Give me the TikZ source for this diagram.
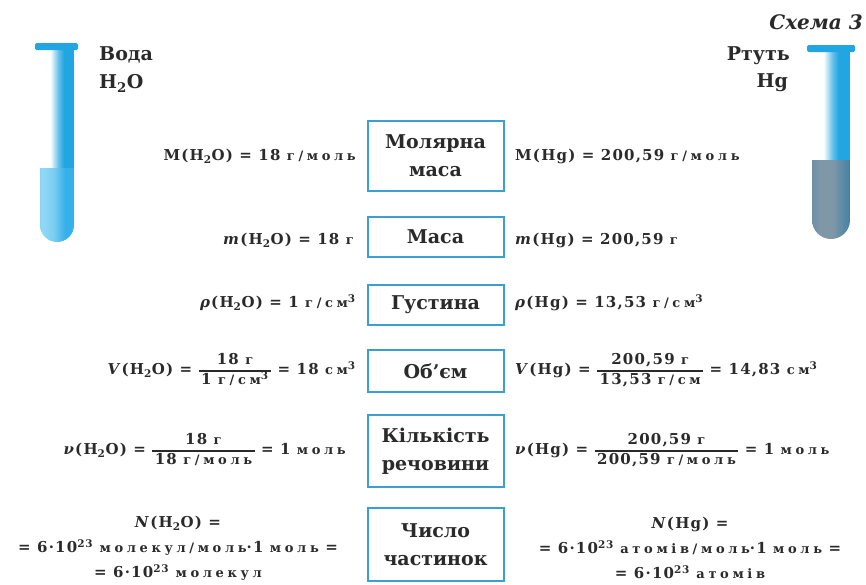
\documentclass[tikz,border=0pt]{standalone}
\usepackage{fontspec}
\setmainfont{DejaVu Serif}
\usetikzlibrary{positioning}

\definecolor{boxblue}{HTML}{3AA0D2}
\definecolor{tubeblue}{HTML}{22A6E2}
\definecolor{tubepale}{HTML}{5EC3F0}
\definecolor{waterA}{HTML}{35B0E8}
\definecolor{waterB}{HTML}{92D8F6}
\definecolor{hgA}{HTML}{3C7EA4}
\definecolor{hgB}{HTML}{7F98A8}
\definecolor{inkgray}{HTML}{2A2A2A}

% glass, water and mercury shadings (across the tube width)
\pgfdeclarehorizontalshading{glass}{100bp}{color(0bp)=(tubepale); color(10bp)=(tubepale!40); color(20bp)=(white); color(40bp)=(white); color(52bp)=(tubeblue!70); color(60bp)=(tubeblue); color(100bp)=(tubeblue)}
\pgfdeclarehorizontalshading{water}{100bp}{color(0bp)=(waterA); color(28bp)=(waterB); color(45bp)=(waterB!75!waterA); color(62bp)=(waterA); color(100bp)=(waterA)}
\pgfdeclarehorizontalshading{mercury}{100bp}{color(0bp)=(hgA); color(35bp)=(hgB); color(52bp)=(hgB); color(75bp)=(hgA!90!hgB); color(100bp)=(hgA)}

% units are set smaller and spaced out
\newcommand\unt[1]{{\fontsize{13}{13}\selectfont\addfontfeature{LetterSpace=28}#1}}
\newcommand\frc[2]{$\vcenter{\hbox{\setlength\arrayrulewidth{1.1pt}\renewcommand\arraystretch{1.05}%
  \begin{tabular}{@{\,}c@{\,}}#1\\\hline #2\end{tabular}}}$}

\tikzset{
  quantity/.style={draw=boxblue, line width=2pt, fill=white, minimum width=136pt,
    align=center, font=\fontsize{19}{28}\selectfont\bfseries, text=inkgray, inner sep=0pt},
  formula/.style={font=\fontsize{15}{18}\selectfont\bfseries\addfontfeature{LetterSpace=8}, text=inkgray, inner sep=0pt},
  formula3/.style={formula, align=center, font=\fontsize{15}{25}\selectfont\bfseries\addfontfeature{LetterSpace=8}},
  heading/.style={font=\fontsize{19}{22}\selectfont\bfseries, text=inkgray, inner sep=0pt},
}

\begin{document}
\begin{tikzpicture}[x=1pt,y=-1pt]
\useasboundingbox (0,0) rectangle (866,584);

% ---- left test tube: water ----
\begin{scope}
  \path[clip] (40,48) -- (40,225) arc[start angle=180,end angle=0,radius=17] -- (74,48) -- cycle;
  \shade[shading=glass] (40,48) rectangle (74,168);
  \shade[shading=water] (40,168) rectangle (74,245);
\end{scope}
\fill[tubeblue, rounded corners=1.5pt] (35,43) rectangle (78,50);

% ---- right test tube: mercury ----
\begin{scope}
  \path[clip] (812,50) -- (812,220) arc[start angle=180,end angle=0,radius=19] -- (850,50) -- cycle;
  \shade[shading=glass] (812,50) rectangle (850,160);
  \shade[shading=mercury] (812,160) rectangle (850,242);
\end{scope}
\fill[tubeblue, rounded corners=1.5pt] (807,45) rectangle (855,52);

% ---- headings ----
\node[heading, anchor=west] (water) at (99,55) {Вода};
\node[heading, anchor=west] (waterf) at (99,83) {H\textsubscript{2}O};
\node[heading, anchor=east] (hg) at (790,56) {Ртуть};
\node[heading, anchor=east] (hgf) at (788,83) {Hg};
\node[font=\fontsize{20}{22}\selectfont\bfseries\itshape, text=inkgray, anchor=east, inner sep=0pt] (title) at (863,22) {Схема 3};

% ---- quantity boxes ----
\node[quantity, minimum height=70pt] (molar) at (435.5,156) {Молярна\\маса};
\node[quantity, minimum height=40pt] (mass) at (435.5,237) {Маса};
\node[quantity, minimum height=40pt] (dens) at (435.5,305) {Густина};
\node[quantity, minimum height=42pt] (vol) at (435.5,371) {Об’єм};
\node[quantity, minimum height=72pt] (amount) at (435.5,451) {Кількість\\речовини};
\node[quantity, minimum height=73pt] (number) at (435.5,544.5) {Число\\частинок};

% ---- water column ----
\node[formula, anchor=east] (mw) at (356,156) {M(H\textsubscript{2}O) = 18 \unt{г/моль}};
\node[formula, anchor=east] (massw) at (354,240) {\textit{m}(H\textsubscript{2}O) = 18 \unt{г}};
\node[formula, anchor=east] (rhow) at (356,303) {\textit{ρ}(H\textsubscript{2}O) = 1 \unt{г/см}\textsuperscript{3}};
\node[formula, anchor=east] (vw) at (356,371) {\textit{V}(H\textsubscript{2}O) = \frc{18 \unt{г}}{1 \unt{г/см}\textsuperscript{3}} = 18 \unt{см}\textsuperscript{3}};
\node[formula, anchor=east] (nuw) at (346,451) {\textit{ν}(H\textsubscript{2}O) = \frc{18 \unt{г}}{18 \unt{г/моль}} = 1 \unt{моль}};
\node[formula3] (nw) at (178,548) {\textit{N}(H\textsubscript{2}O) =\\= 6·10\textsuperscript{23} \unt{молекул/моль}·1 \unt{моль} =\\= 6·10\textsuperscript{23} \unt{молекул}};

% ---- mercury column ----
\node[formula, anchor=west] (mhg) at (515,156) {M(Hg) = 200,59 \unt{г/моль}};
\node[formula, anchor=west] (masshg) at (515,240) {\textit{m}(Hg) = 200,59 \unt{г}};
\node[formula, anchor=west] (rhohg) at (515,303) {\textit{ρ}(Hg) = 13,53 \unt{г/см}\textsuperscript{3}};
\node[formula, anchor=west] (vhg) at (515,371) {\textit{V}(Hg) = \frc{200,59 \unt{г}}{13,53 \unt{г/см}} = 14,83 \unt{см}\textsuperscript{3}};
\node[formula, anchor=west] (nuhg) at (515,451) {\textit{ν}(Hg) = \frc{200,59 \unt{г}}{200,59 \unt{г/моль}} = 1 \unt{моль}};
\node[formula3] (nhg) at (690,548) {\textit{N}(Hg) =\\= 6·10\textsuperscript{23} \unt{атомів/моль}·1 \unt{моль} =\\= 6·10\textsuperscript{23} \unt{атомів}};
\end{tikzpicture}
\end{document}
